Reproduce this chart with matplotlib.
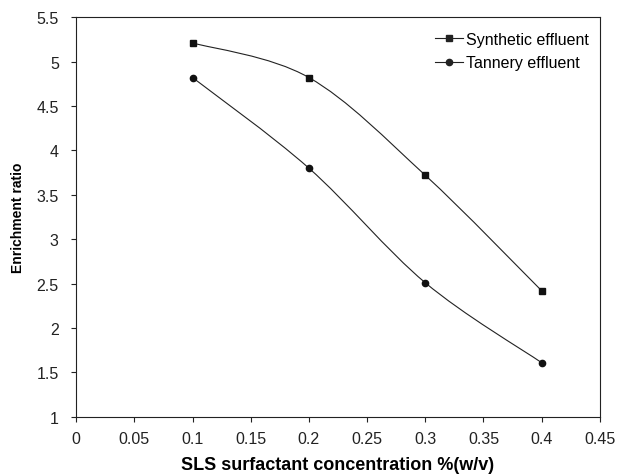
import numpy as np
import matplotlib
matplotlib.use("Agg")
import matplotlib.pyplot as plt
from matplotlib.path import Path
from matplotlib.patches import PathPatch

plt.rcParams["font.family"] = ["Liberation Sans", "DejaVu Sans"]

conc = [0.1, 0.2, 0.3, 0.4]
synthetic = [5.21, 4.82, 3.72, 2.42]
tannery = [4.82, 3.80, 2.51, 1.61]


def smooth_path(x, y, t=1 / 6):
    # Excel-style smoothed line: cubic Bezier segments with Catmull-Rom tangents
    x = np.asarray(x, float)
    y = np.asarray(y, float)
    n = len(x)
    verts = [(x[0], y[0])]
    codes = [Path.MOVETO]
    for i in range(n - 1):
        p0 = np.array([x[max(i - 1, 0)], y[max(i - 1, 0)]])
        p1 = np.array([x[i], y[i]])
        p2 = np.array([x[i + 1], y[i + 1]])
        p3 = np.array([x[min(i + 2, n - 1)], y[min(i + 2, n - 1)]])
        c1 = p1 + (p2 - p0) * t
        c2 = p2 - (p3 - p1) * t
        verts += [tuple(c1), tuple(c2), tuple(p2)]
        codes += [Path.CURVE4] * 3
    return Path(verts, codes)


fig = plt.figure(figsize=(6.19, 4.77), dpi=100)
ax = fig.add_axes([0.123, 0.124, 0.846, 0.838])

for yv, mk, ms, label in [(synthetic, "s", 4.5, "Synthetic effluent"),
                          (tannery, "o", 4.5, "Tannery effluent")]:
    ax.add_patch(PathPatch(smooth_path(conc, yv), fill=False, edgecolor="#222222", lw=0.8))
    ax.plot(conc, yv, linestyle="none", marker=mk, ms=ms, color="#111111")
    ax.plot([], [], color="#222222", lw=0.8, marker=mk, ms=ms, label=label)

ax.set_xlim(0, 0.45)
ax.set_ylim(1, 5.5)
ax.set_xticks(np.arange(0, 0.451, 0.05))
ax.set_xticklabels(["0", "0.05", "0.1", "0.15", "0.2", "0.25", "0.3", "0.35", "0.4", "0.45"])
ax.set_yticks(np.arange(1, 5.51, 0.5))
ax.set_yticklabels(["1", "1.5", "2", "2.5", "3", "3.5", "4", "4.5", "5", "5.5"])
ax.tick_params(axis="both", labelsize=11.5, length=3.5, width=0.8, direction="out", colors="#222222")
ax.tick_params(axis="y", pad=9)
ax.tick_params(axis="x", pad=7)
for s in ax.spines.values():
    s.set_linewidth(0.8)
    s.set_color("#222222")

ax.set_xlabel("SLS surfactant concentration %(w/v)", fontsize=13, fontweight="bold", labelpad=7)
ax.set_ylabel("Enrichment ratio", fontsize=10, fontweight="bold", labelpad=8)

ax.legend(loc="upper right", bbox_to_anchor=(1.013, 1.0075), frameon=False, fontsize=11.5,
          handlelength=1.75, handletextpad=0.2, borderaxespad=0.7, labelspacing=0.55)

fig.savefig("out.png", dpi=100)
